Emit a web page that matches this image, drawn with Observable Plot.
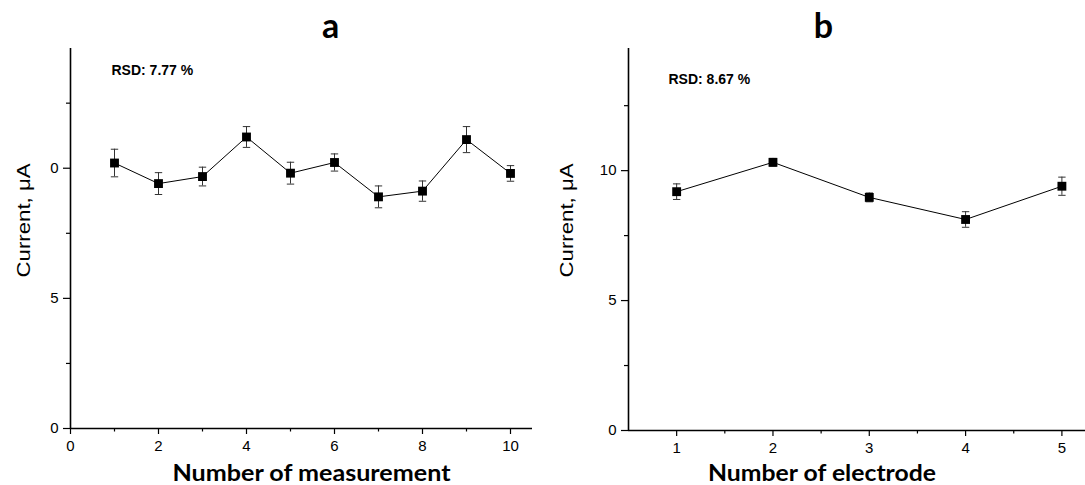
<!DOCTYPE html>
<html>
<head>
<meta charset="utf-8">
<script src="https://cdn.jsdelivr.net/npm/d3@7"></script>
<script src="https://cdn.jsdelivr.net/npm/@observablehq/plot@0.6"></script>
<style>
  body { margin: 0; background: white; }
  #wrap { position: relative; width: 1085px; height: 485px; overflow: hidden; background: white; }
  #wrap > svg { position: absolute; top: 0; }
</style>
</head>
<body>
<div id="wrap"></div>
<script>
// ---- data ----
const measNumber = [1, 2, 3, 4, 5, 6, 7, 8, 9, 10];
const measCurrent = [10.2, 9.41, 9.68, 11.2, 9.81, 10.22, 8.9, 9.12, 11.1, 9.8];
const measError = [0.53, 0.42, 0.36, 0.4, 0.42, 0.33, 0.42, 0.39, 0.5, 0.3];

const electrodeNumber = [1, 2, 3, 4, 5];
const electrodeCurrent = [9.19, 10.32, 8.97, 8.12, 9.4];
const electrodeError = [0.3, 0.15, 0.17, 0.3, 0.35];

const yTicks = [0, 5, 10];
const yTickLabelsA = ["0", "5", "0"];
const yTickLabelsB = ["0", "5", "10"];
const yMinorTicks = [2.5, 7.5, 12.5];
const xTicksA = [0, 2, 4, 6, 8, 10];
const xMinorTicksA = [1, 3, 5, 7, 9];
const xTicksB = [1, 2, 3, 4, 5];
const xMinorTicksB = [1.5, 2.5, 3.5, 4.5, 5.5];

const titles = ["a", "b"];
const rsdTexts = ["RSD: 7.77 %", "RSD: 8.67 %"];
const xLabels = ["Number of measurement", "Number of electrode"];
const yLabel = "Current, μA";

const capSymbol = {
  draw(ctx) { ctx.moveTo(-3.7, 0); ctx.lineTo(3.7, 0); }
};

function stretch(svg, content, length) {
  d3.select(svg).selectAll("text").filter(function () { return this.textContent === content; })
    .attr("textLength", length).attr("lengthAdjust", "spacingAndGlyphs");
}

function panel(cfg) {
  const data = cfg.xs.map((x, i) => ({x, y: cfg.ys[i], e: cfg.errs[i]}));
  const labelMap = new Map(yTicks.map((t, i) => [t, cfg.yLabels[i]]));
  const svg = Plot.plot({
    width: cfg.width,
    height: 485,
    marginLeft: cfg.marginLeft,
    marginRight: cfg.marginRight,
    marginTop: 48,
    marginBottom: cfg.marginBottom,
    style: {fontFamily: "'Liberation Sans', Arial, sans-serif", fontSize: "15px", color: "black", background: "white", overflow: "visible"},
    x: {domain: cfg.xDomain},
    y: {domain: cfg.yDomain},
    marks: [
      Plot.axisY(yTicks, {tickSize: 7, tickPadding: 5, tickFormat: d => labelMap.get(d), label: null, fontSize: 15, strokeWidth: 1.2}),
      Plot.axisY(yMinorTicks, {tickSize: 4, tickFormat: () => "", label: null, strokeWidth: 1.2}),
      Plot.axisX(cfg.xTicks, {tickSize: 6, tickPadding: 6, label: null, fontSize: 15, strokeWidth: 1.2}),
      Plot.axisX(cfg.xMinor, {tickSize: 3.5, tickFormat: () => "", label: null, strokeWidth: 1.2}),
      Plot.ruleX([cfg.xDomain[0]], {stroke: "black", strokeWidth: 1.6}),
      Plot.ruleY([0], {stroke: "black", strokeWidth: 1.6}),
      Plot.line(data, {x: "x", y: "y", stroke: "black", strokeWidth: 1}),
      Plot.ruleX(data, {x: "x", y1: d => d.y - d.e, y2: d => d.y + d.e, stroke: "#333", strokeWidth: 1}),
      Plot.dot(data, {x: "x", y: d => d.y + d.e, symbol: capSymbol, stroke: "#333", fill: "none", strokeWidth: 1}),
      Plot.dot(data, {x: "x", y: d => d.y - d.e, symbol: capSymbol, stroke: "#333", fill: "none", strokeWidth: 1}),
      Plot.dot(data, {x: "x", y: "y", symbol: "square", r: 5, fill: "black", stroke: "none"}),
      Plot.text([cfg.rsd], {frameAnchor: "top-left", textAnchor: "start", lineAnchor: "middle", dx: cfg.rsdDx, dy: cfg.rsdDy, fontSize: 14, fontWeight: "bold", fill: "black"}),
      Plot.text([cfg.title], {frameAnchor: "top-left", textAnchor: "middle", lineAnchor: "middle", dx: cfg.titleDx, dy: -21, fontSize: 34, fontWeight: "bold", fontFamily: "Lato, 'Open Sans', sans-serif", fill: "black"}),
      Plot.text([yLabel], {frameAnchor: "left", rotate: -90, textAnchor: "middle", lineAnchor: "middle", dx: cfg.yLabelDx, dy: cfg.yLabelDy, fontSize: 18, fill: "black"}),
      Plot.text([cfg.xLabel], {frameAnchor: "bottom", textAnchor: "middle", lineAnchor: "middle", dx: cfg.xLabelDx, dy: cfg.xLabelDy, fontSize: 22, fontWeight: "bold", fontFamily: "Lato, 'Open Sans', sans-serif", fill: "black"})
    ]
  });
  stretch(svg, yLabel, 114);
  stretch(svg, cfg.xLabel, cfg.xLabelLength);
  return svg;
}

const wrap = document.getElementById("wrap");

const a = panel({
  xs: measNumber, ys: measCurrent, errs: measError,
  width: 545, marginLeft: 70, marginRight: 13, marginBottom: 57,
  xDomain: [0, 10.5], yDomain: [0, 14.6],
  xTicks: xTicksA, xMinor: xMinorTicksA, yLabels: yTickLabelsA,
  rsd: rsdTexts[0], rsdDx: 41, rsdDy: 22.5,
  title: titles[0], titleDx: 260,
  yLabelDx: -46, yLabelDy: -18,
  xLabel: xLabels[0], xLabelDx: 10, xLabelDy: 45, xLabelLength: 278
});
a.style.left = "0px";
wrap.appendChild(a);

const b = panel({
  xs: electrodeNumber, ys: electrodeCurrent, errs: electrodeError,
  width: 540, marginLeft: 83, marginRight: 0, marginBottom: 55,
  xDomain: [0.5, 5.245], yDomain: [0, 14.7],
  xTicks: xTicksB, xMinor: xMinorTicksB, yLabels: yTickLabelsB,
  rsd: rsdTexts[1], rsdDx: 40, rsdDy: 31,
  title: titles[1], titleDx: 195,
  yLabelDx: -61, yLabelDy: -19,
  xLabel: xLabels[1], xLabelDx: -35, xLabelDy: 43, xLabelLength: 228
});
b.style.left = "545px";
wrap.appendChild(b);
</script>
</body>
</html>
